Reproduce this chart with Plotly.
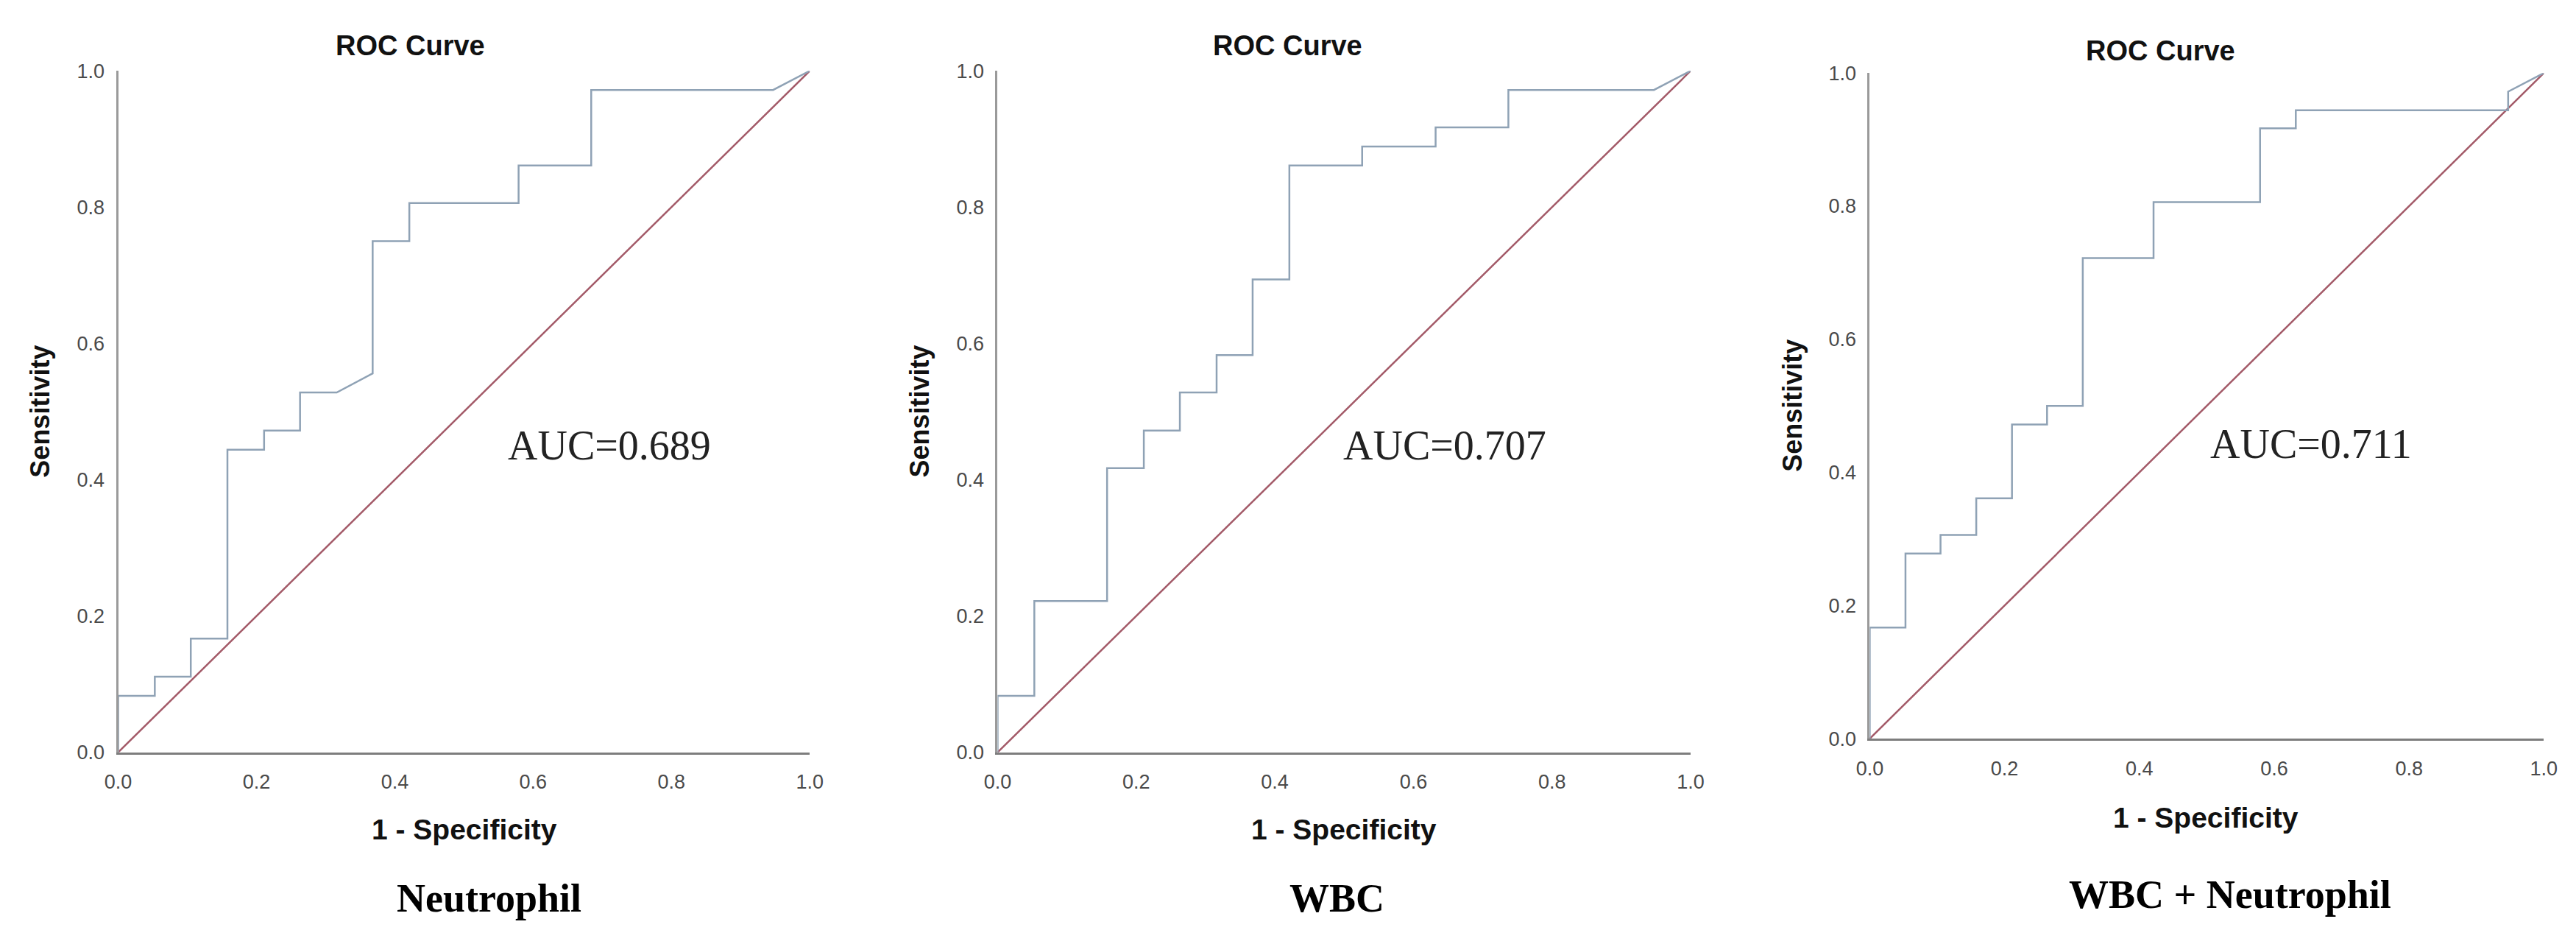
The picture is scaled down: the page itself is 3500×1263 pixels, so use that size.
import plotly.graph_objects as go

W, H = 3500, 1263

# ROC points (1 - specificity, sensitivity)
neut_fpr = [0, 0, 0.053, 0.053, 0.105, 0.105, 0.158, 0.158, 0.211, 0.211, 0.263, 0.263,
            0.316, 0.368, 0.368, 0.421, 0.421, 0.579, 0.579, 0.684, 0.684, 0.947, 1.0]
neut_tpr = [0, 0.083, 0.083, 0.111, 0.111, 0.167, 0.167, 0.444, 0.444, 0.472, 0.472, 0.528,
            0.528, 0.556, 0.75, 0.75, 0.806, 0.806, 0.861, 0.861, 0.972, 0.972, 1.0]

wbc_fpr = [0, 0, 0.053, 0.053, 0.158, 0.158, 0.211, 0.211, 0.263, 0.263, 0.316, 0.316,
           0.368, 0.368, 0.421, 0.421, 0.526, 0.526, 0.632, 0.632, 0.737, 0.737, 0.947, 1.0]
wbc_tpr = [0, 0.083, 0.083, 0.222, 0.222, 0.417, 0.417, 0.472, 0.472, 0.528, 0.528, 0.583,
           0.583, 0.694, 0.694, 0.861, 0.861, 0.889, 0.889, 0.917, 0.917, 0.972, 0.972, 1.0]

comb_fpr = [0, 0, 0.053, 0.053, 0.105, 0.105, 0.158, 0.158, 0.211, 0.211, 0.263, 0.263,
            0.316, 0.316, 0.421, 0.421, 0.579, 0.579, 0.632, 0.632, 0.947, 0.947, 1.0]
comb_tpr = [0, 0.167, 0.167, 0.278, 0.278, 0.306, 0.306, 0.361, 0.361, 0.472, 0.472, 0.5,
            0.5, 0.722, 0.722, 0.806, 0.806, 0.917, 0.917, 0.944, 0.944, 0.972, 1.0]

ref_line = [0, 1]

names = ["Neutrophil", "WBC", "WBC + Neutrophil"]
auc_text = ["AUC=0.689", "AUC=0.707", "AUC=0.711"]
auc_pos = [(0.71, 0.45), (0.645, 0.45), (0.655, 0.443)]
tick_vals = [0, 0.2, 0.4, 0.6, 0.8, 1.0]
tick_text = ["0.0", "0.2", "0.4", "0.6", "0.8", "1.0"]

# pixel boxes of the plot areas: left, right, top, bottom
boxes = [(135, 1085, 75, 1023), (1343, 2295, 75, 1023), (2541, 3467, 78, 1004)]
# label centres in pixels: title, x title, panel name, y title
title_px = [(536, 40), (1741, 40), (2940, 47)]
xlab_px = [(611, 1130), (1819, 1130), (3003, 1114)]
name_px = [(645, 1226), (1809, 1226), (3036, 1221)]
ylab_px = [(28, 549), (1236, 549), (2435, 541)]

CURVE = "#8fa2b5"
DIAG = "#a35a68"
SANS = "Liberation Sans, Arial, sans-serif"
SERIF = "Liberation Serif, Times New Roman, serif"


def px(x, y):
    return x / W, 1 - y / H


fig = go.Figure()
curves = [(neut_fpr, neut_tpr), (wbc_fpr, wbc_tpr), (comb_fpr, comb_tpr)]
annotations = []
for i, (fx, fy) in enumerate(curves):
    xa = "x" if i == 0 else f"x{i+1}"
    ya = "y" if i == 0 else f"y{i+1}"
    fig.add_trace(go.Scatter(x=ref_line, y=ref_line, mode="lines", xaxis=xa, yaxis=ya,
                             line=dict(color=DIAG, width=2.5), hoverinfo="skip"))
    fig.add_trace(go.Scatter(x=fx, y=fy, mode="lines", xaxis=xa, yaxis=ya,
                             line=dict(color=CURVE, width=2.5)))

    l, r, t, b = boxes[i]
    axis_common = dict(range=[0, 1], tickvals=tick_vals, ticktext=tick_text,
                       showgrid=False, zeroline=False, showline=True, ticks="",
                       tickfont=dict(family=SANS, size=27, color="#4a4a4a"),
                       fixedrange=True)
    fig.layout[f"xaxis{'' if i == 0 else i+1}"] = dict(
        axis_common, domain=[l / W, r / W], anchor=ya,
        linecolor="#7d7d7d", linewidth=3, ticklabelstandoff=14)
    fig.layout[f"yaxis{'' if i == 0 else i+1}"] = dict(
        axis_common, domain=[1 - b / H, 1 - t / H], anchor=xa,
        linecolor="#9a9a9a", linewidth=3, ticklabelstandoff=10)

    for (cx, cy), txt, fnt in [
        (title_px[i], "ROC Curve", dict(family=SANS, size=38, color="#111")),
        (xlab_px[i], "1 - Specificity", dict(family=SANS, size=39, color="#111")),
        (name_px[i], names[i], dict(family=SERIF, size=54, color="#000")),
    ]:
        ax, ay = px(cx, cy)
        bold_txt = f"<b>{txt}</b>"
        annotations.append(dict(x=ax, y=ay, xref="paper", yref="paper", text=bold_txt,
                                showarrow=False, xanchor="center", yanchor="middle", font=fnt))
    ax, ay = px(*ylab_px[i])
    annotations.append(dict(x=ax, y=ay, xref="paper", yref="paper", text="<b>Sensitivity</b>",
                            textangle=-90, showarrow=False, xanchor="center", yanchor="middle",
                            font=dict(family=SANS, size=36, color="#111")))
    annotations.append(dict(x=auc_pos[i][0], y=auc_pos[i][1], xref=xa, yref=ya,
                            text=auc_text[i], showarrow=False, xanchor="center",
                            yanchor="middle", font=dict(family=SERIF, size=56, color="#222")))

fig.update_layout(
    width=W, height=H, autosize=False,
    margin=dict(l=0, r=0, t=0, b=0),
    paper_bgcolor="white", plot_bgcolor="white",
    showlegend=False, hovermode=False,
    annotations=annotations,
)

fig.write_html("out.html")
